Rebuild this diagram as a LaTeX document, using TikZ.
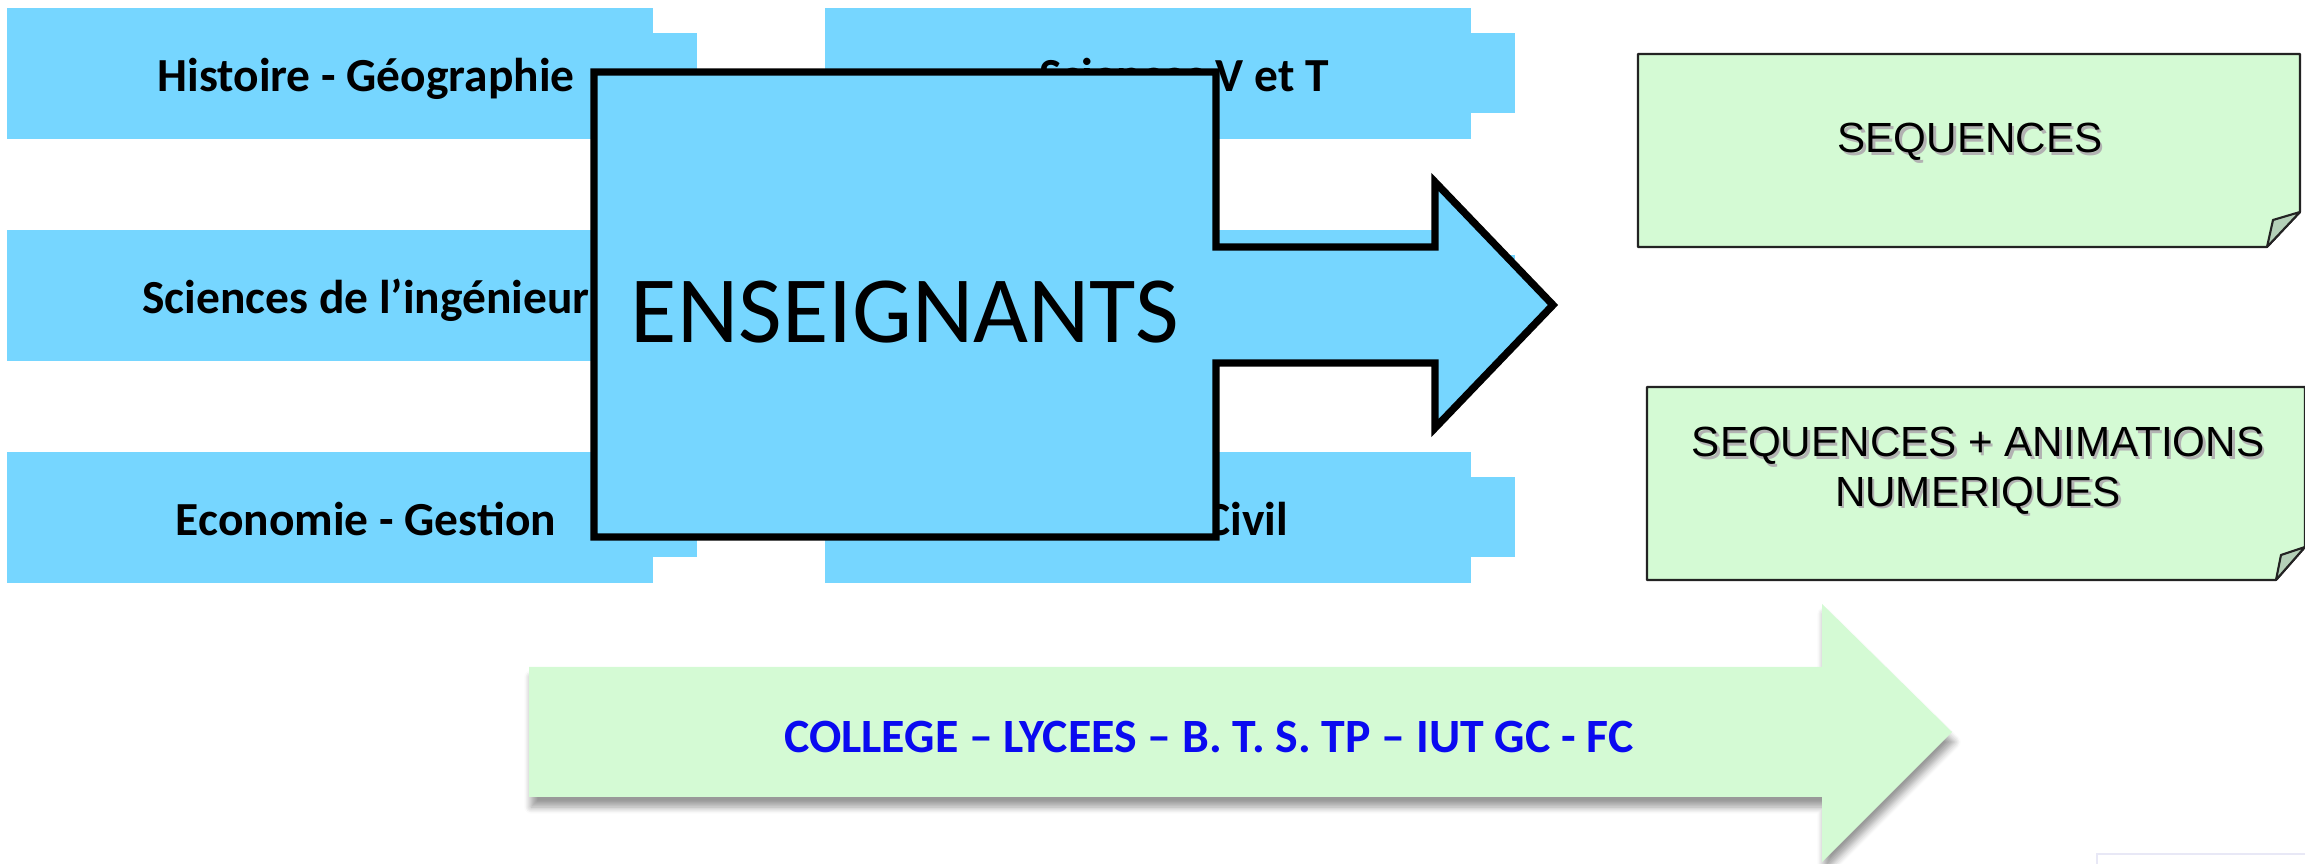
\documentclass[tikz,border=0pt]{standalone}
\usepackage{fontspec}
\setmainfont{Carlito}
\newfontfamily\arialfont{Liberation Sans}
\usepackage{tikz}
\usetikzlibrary{shadows.blur}
\definecolor{ciel}{RGB}{118,214,255}
\definecolor{menthe}{RGB}{212,250,212}
\definecolor{pli}{RGB}{180,208,184}
\definecolor{bordure}{RGB}{35,35,35}
\definecolor{bleutxt}{RGB}{10,10,240}
\definecolor{trait}{RGB}{232,232,246}
\newcommand{\ombre}[1]{\leavevmode\rlap{\kern0.7pt\raisebox{-0.7pt}{\textcolor{black!30}{#1}}}#1}

\begin{document}
\begin{tikzpicture}[
        matiere/.style={rectangle, fill=ciel, minimum width=6.46cm, minimum height=1.31cm, inner sep=0pt},
        libelle/.style={anchor=base, inner sep=0pt, font=\bfseries\fontsize{13.5}{16}\selectfont},
        fiche/.style={draw=bordure, line width=0.6pt, fill=menthe, line join=round},
        coin/.style={draw=bordure, line width=0.6pt, fill=pli, line join=round},
        texte/.style={inner sep=0pt, align=center, font=\arialfont\fontsize{12}{14}\selectfont}]

    \useasboundingbox (0,0) rectangle (23.05,-8.64);

    % Disciplines
    \foreach \nom/\x/\y/\txt in {hg/3.30/-0.735/{Histoire - Géographie},
            si/3.30/-2.955/{Sciences de l’ingénieur},
            eg/3.30/-5.175/{Economie - Gestion},
            svt/11.48/-0.735/{Sciences V et T},
            mil/11.48/-2.955/{},
            gc/11.48/-5.175/{Génie Civil}}{
        \node[matiere] (\nom) at (\x,\y) {};
        \fill[ciel] ([xshift=-0.02cm,yshift=-0.26cm]\nom.north east) rectangle ([xshift=0.43cm,yshift=0.27cm]\nom.south east);
        \node[libelle] (\nom-t) at ([xshift=0.36cm,yshift=-0.185cm]\nom.center) {\txt};
    }

    % Enseignants
    \draw[fill=ciel, line width=2.1pt, line join=miter]
        (5.94,-0.72) -- (12.16,-0.72) -- (12.16,-2.47) -- (14.35,-2.47) -- (14.35,-1.82)
        -- (15.53,-3.05) -- (14.35,-4.28) -- (14.35,-3.63) -- (12.16,-3.63)
        -- (12.16,-5.37) -- (5.94,-5.37) -- cycle;
    \node[anchor=base, inner sep=0pt, font=\fontsize{27}{32}\selectfont] (ens) at (9.05,-3.43) {ENSEIGNANTS};

    % Sequences
    \draw[fiche] (16.38,-0.54) -- (23.00,-0.54) -- (23.00,-2.12) -- (22.67,-2.47) -- (16.38,-2.47) -- cycle;
    \draw[coin] (22.67,-2.47) -- (22.73,-2.20) -- (23.00,-2.12) -- cycle;
    \node[texte, anchor=base] (seq) at (19.70,-1.53) {\ombre{SEQUENCES}};

    \draw[fiche] (16.47,-3.87) -- (23.05,-3.87) -- (23.05,-5.47) -- (22.76,-5.80) -- (16.47,-5.80) -- cycle;
    \draw[coin] (22.76,-5.80) -- (22.81,-5.55) -- (23.05,-5.47) -- cycle;
    \node[texte] (anim) at (19.78,-4.72) {\ombre{SEQUENCES + ANIMATIONS}\\\ombre{NUMERIQUES}};

    % Niveaux
    \fill[menthe, blur shadow={shadow xshift=0.02cm, shadow yshift=-0.1cm, shadow blur steps=6, shadow opacity=40}]
        (5.29,-6.67) -- (18.22,-6.67) -- (18.22,-6.04) -- (19.52,-7.32)
        -- (18.22,-8.62) -- (18.22,-7.97) -- (5.29,-7.97) -- cycle;
    \node[anchor=base, inner sep=0pt, text=bleutxt, font=\bfseries\fontsize{13.6}{16}\selectfont] (niv) at (12.09,-7.53)
        {COLLEGE – LYCEES – B. T. S. TP – IUT GC - FC};

    \draw[trait, line width=0.8pt] (20.97,-8.70) -- (20.97,-8.54) -- (23.10,-8.54);

\end{tikzpicture}
\end{document}
